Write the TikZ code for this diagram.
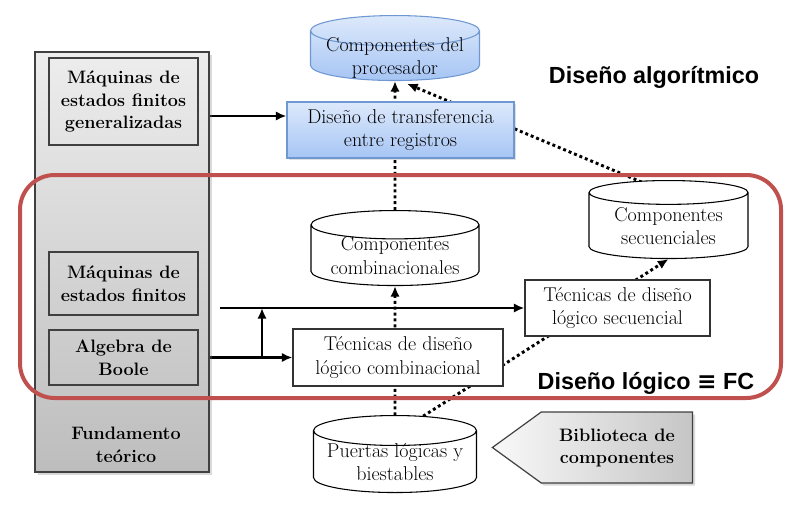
\documentclass[tikz,border=0pt]{standalone}
\usepackage{fontspec}
\setsansfont{Liberation Sans}
\newfontfamily\symfont{DejaVu Sans}
\usetikzlibrary{shapes.geometric}
\usetikzlibrary{shapes.symbols}
\usetikzlibrary{arrows.meta}
\usetikzlibrary{shadows}
\pgfdeclarelayer{edgelayer}
\pgfdeclarelayer{nodelayer}
\pgfsetlayers{edgelayer,nodelayer,main}
\definecolor{framered}{HTML}{C0504D}
\definecolor{bluetop}{HTML}{DDE9FB}
\definecolor{bluebot}{HTML}{A6C5F4}
\definecolor{blueline}{HTML}{6F98D2}
\definecolor{greytop}{HTML}{EDEDED}
\definecolor{greybot}{HTML}{BDBDBD}
\newcommand\lowtext[1]{\raisebox{-5.5pt}[0pt][0pt]{\begin{tabular}{@{}c@{}}#1\end{tabular}}}
\tikzstyle{txt}=[font=\fontsize{15}{17.5}\selectfont,align=center,inner sep=0pt]
\tikzstyle{panel}=[rectangle,draw=black!75,line width=1.1pt,top color=greytop,bottom color=greybot,drop shadow={opacity=0.3,shadow xshift=2pt,shadow yshift=-2pt}]
\tikzstyle{theory}=[txt,rectangle,draw=black!75,line width=0.9pt,font=\fontsize{13.5}{17}\selectfont\bfseries]
\tikzstyle{bluebox}=[txt,rectangle,draw=blueline,line width=0.8pt,top color=bluetop,bottom color=bluebot,drop shadow={opacity=0.25,shadow xshift=1.5pt,shadow yshift=-1.5pt}]
\tikzstyle{whitebox}=[txt,rectangle,draw=black!80,line width=0.8pt,fill=white]
\tikzstyle{store}=[txt,cylinder,shape border rotate=90,aspect=0.22,draw=black,line width=0.8pt,fill=white,anchor=north]
\tikzstyle{bluestore}=[store,draw=blueline,top color=bluetop,bottom color=bluebot]
\tikzstyle{library}=[signal,signal to=west,signal pointer angle=72,draw=black!75,line width=0.9pt,left color=gray!5,right color=gray!45,drop shadow={opacity=0.3,shadow xshift=2pt,shadow yshift=-2pt},inner sep=0pt]
\tikzstyle{title}=[font=\sffamily\bfseries\fontsize{17.5}{20}\selectfont,inner sep=0pt]
\tikzstyle{flow}=[line width=2pt,-{Latex[length=8pt,width=7pt]}]
\tikzstyle{link}=[line width=2.2pt,dash pattern=on 2.2pt off 2.2pt,-{Latex[length=8pt,width=7pt]}]

\begin{document}
\begin{tikzpicture}[x=0.75pt,y=-0.75pt]
	\useasboundingbox (0,0) rectangle (802,506);
	\begin{pgfonlayer}{nodelayer}
		\node [panel,minimum width=130.5pt,minimum height=315pt] (panel) at (122,262) {};
		\node [theory,minimum width=111.75pt,minimum height=65.25pt] (mefg) at (123.5,101.5) {Máquinas de\\estados finitos\\generalizadas};
		\node [theory,minimum width=111.75pt,minimum height=47.25pt] (mef) at (123.5,283.5) {Máquinas de\\estados finitos};
		\node [theory,minimum width=111.75pt,minimum height=41.25pt] (boole) at (123.5,357.5) {Algebra de\\Boole};
		\node [theory,draw=none] (fund) at (126,445) {Fundamento\\teórico};
		\node [bluestore,minimum width=126.75pt,minimum height=48.75pt] (proc) at (395,15) {\lowtext{Componentes del\\procesador}};
		\node [bluebox,minimum width=170.25pt,minimum height=42pt] (dtr) at (400.5,130) {Diseño de transferencia\\entre registros};
		\node [store,minimum width=126pt,minimum height=56.25pt] (comb) at (395,210) {\lowtext{Componentes\\combinacionales}};
		\node [store,minimum width=119.25pt,minimum height=58.5pt] (sec) at (668.5,180) {\lowtext{Componentes\\secuenciales}};
		\node [whitebox,minimum width=138.75pt,minimum height=42pt] (tsec) at (617.5,308) {Técnicas de diseño\\lógico secuencial};
		\node [whitebox,minimum width=157.5pt,minimum height=42.75pt] (tcomb) at (398,357.5) {Técnicas de diseño\\lógico combinacional};
		\node [store,minimum width=122.25pt,minimum height=57.75pt] (puertas) at (395,415) {\lowtext{Puertas lógicas y\\biestables}};
		\node [library,minimum width=150pt,minimum height=53.25pt,anchor=east] (biblio) at (693,447.5) {};
		\node [theory,draw=none] (bibtxt) at (617,448) {Biblioteca de\\componentes};
	\end{pgfonlayer}
	\begin{pgfonlayer}{edgelayer}
		\coordinate (dtrin) at ([yshift=10.5pt]dtr.west);
		\coordinate (seqfrom) at (220,308);
		\coordinate (fork) at (262,357.5);
		\draw [flow] (panel.east |- dtrin) -- (dtrin);
		\draw [flow] (seqfrom) -- (tsec.west);
		\draw [flow] (panel.east |- boole) -- (tcomb.west);
		\draw [flow] (fork) -- (fork |- seqfrom);
		\draw [link] ([yshift=-9pt]puertas.north) -- (comb.south);
		\draw [link] (comb.north) -- (proc.south);
		\draw [link] ([xshift=10pt,yshift=-8pt]puertas.north) -- (sec.south);
		\draw [link] ([xshift=-12pt,yshift=-5pt]sec.north) -- ([xshift=9pt,yshift=-2pt]proc.south);
	\end{pgfonlayer}
	\draw [framered,line width=3pt,rounded corners=26pt] (20,175) rectangle (781,398);
	\node [title] (alg) at (654,77) {Diseño algorítmico};
	\node [title] (logic) at (646,383) {Diseño lógico {\symfont ≡} FC};
\end{tikzpicture}
\end{document}
